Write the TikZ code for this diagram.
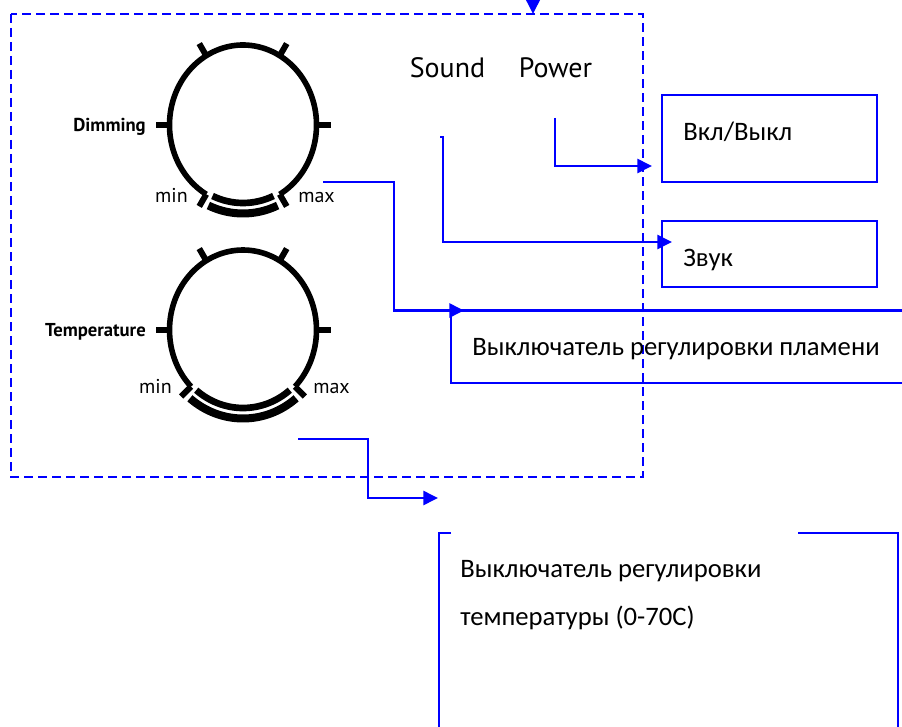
\documentclass[tikz,border=0pt]{standalone}
\usepackage{fontspec}
\setmainfont{Carlito}
\newfontfamily\panelfont{PT Sans}
\usepackage{tikz}
\usetikzlibrary{arrows.meta}
\definecolor{linkblue}{HTML}{0000FF}
\definecolor{dialink}{HTML}{000000}

\begin{document}
\begin{tikzpicture}[
  x=0.75pt,
  y=-0.75pt,
  line join=miter,
  arr/.style={
    -{Triangle[length=11pt,width=10.5pt]},
    draw=linkblue,
    line width=1.9pt
  },
  boxline/.style={
    draw=linkblue,
    line width=1.6pt
  },
  panel/.style={
    draw=linkblue,
    line width=1.5pt,
    dash pattern=on 6.75pt off 3.75pt
  },
  boxtext/.style={
    font=\fontsize{20}{24}\selectfont,
    inner sep=0pt,
    anchor=base west
  },
  dialtag/.style={
    font=\panelfont\bfseries\fontsize{14}{16}\selectfont,
    inner sep=0pt,
    anchor=base east
  },
  rangetag/.style={
    font=\panelfont\fontsize{15}{17}\selectfont,
    inner sep=0pt
  },
  keytag/.style={
    font=\panelfont\fontsize{21}{25}\selectfont,
    inner sep=0pt,
    anchor=base
  }
]

\useasboundingbox (0,0) rectangle (902,727);

% ------------------------------------------------------------
% Control panel with two dials
% ------------------------------------------------------------

\draw[panel] (11,14) rectangle (643,477);

\coordinate (feedtop) at (533,0);
\coordinate (feedin) at (533,14);
\draw[arr] (feedtop) -- (feedin);

\foreach \cy/\g in {125/30,330/45}{
  \begin{scope}[shift={(243,\cy)},yscale=-1,draw=dialink]
    \draw[line width=4.2pt]
      ({73.5*cos(270+\g)},{80*sin(270+\g)})
      arc[start angle=270+\g,end angle=630-\g,x radius=73.5,y radius=80];
    \foreach \a in {0,60,120,180,270-\g,270+\g}
      \draw[line width=4.5pt]
        ({73.5*cos(\a)},{80*sin(\a)}) -- ({87.5*cos(\a)},{94*sin(\a)});
    % split scale under the dial
    \draw[line width=5pt]
      ({73.5*cos(275.5-\g)},{78*sin(275.5-\g)})
      arc[start angle=275.5-\g,end angle=264.5+\g,x radius=73.5,y radius=78];
    \draw[line width=6pt]
      ({83.5*cos(275.5-\g)},{88.5*sin(275.5-\g)})
      arc[start angle=275.5-\g,end angle=264.5+\g,x radius=83.5,y radius=88.5];
  \end{scope}
}

\node[dialtag] (dimtag) at (146,131.5) {Dimming};
\node[rangetag,anchor=base east] (dimmin) at (188,203) {min};
\node[rangetag,anchor=base west] (dimmax) at (298,203) {max};

\node[dialtag] (temptag) at (146,336.5) {Temperature};
\node[rangetag,anchor=base east] (tempmin) at (172,393.5) {min};
\node[rangetag,anchor=base west] (tempmax) at (313,393.5) {max};

\node[keytag] (soundkey) at (447.5,78) {Sound};
\node[keytag] (powerkey) at (555.5,78) {Power};

% ------------------------------------------------------------
% Description boxes
% ------------------------------------------------------------

\draw[boxline] (662,95) rectangle (877,182);
\node[boxtext] (onofftext) at (683,141) {Вкл/Выкл};

\draw[boxline] (662,221) rectangle (877,287);
\node[boxtext] (soundtext) at (683,266) {Звук};

\draw[boxline] (906,310.5) -- (451,310.5) -- (451,383) -- (906,383);
\node[boxtext] (flametext) at (472,355) {Выключатель регулировки пламени};

\draw[boxline] (451,533) -- (439,533) -- (439,731);
\draw[boxline] (798,533) -- (898,533) -- (898,731);
\node[boxtext] (templinea) at (460,577) {Выключатель регулировки};
\node[boxtext] (templineb) at (460,625) {температуры (0-70C)};

% ------------------------------------------------------------
% Leaders from the panel to the boxes
% ------------------------------------------------------------

\coordinate (powersrc) at (555,118);
\coordinate (powertip) at (652,166);
\draw[arr] (powersrc) |- (powertip);

\coordinate (soundsrc) at (440,137);
\coordinate (soundtip) at (672,242);
\draw[arr] (soundsrc) -- ++(3,0) |- (soundtip);

\coordinate (dimsrc) at (323,182);
\coordinate (dimtip) at (464,310.5);
\draw[arr] (dimsrc) -- ++(71,0) |- (dimtip);

\coordinate (tempsrc) at (298,439);
\coordinate (temptip) at (438,498);
\draw[arr] (tempsrc) -- ++(70,0) |- (temptip);
\end{tikzpicture}
\end{document}
